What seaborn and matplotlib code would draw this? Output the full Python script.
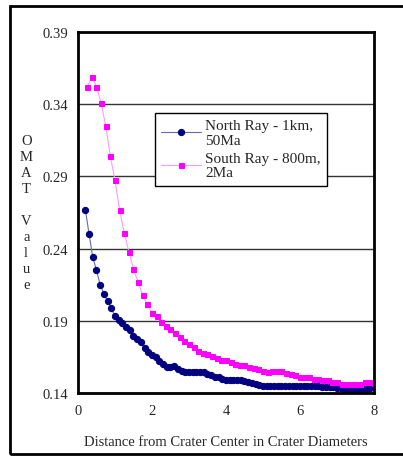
import seaborn as sns
import matplotlib.pyplot as plt
import matplotlib.patches as patches
import pandas as pd

# ----------------------------------
# data
# ----------------------------------
north_x = [0.2, 0.3, 0.4, 0.5, 0.6, 0.7, 0.8, 0.9, 1.0,
           1.1, 1.2, 1.3, 1.4, 1.5, 1.6, 1.7, 1.8, 1.9, 2.0,
           2.1, 2.2, 2.3, 2.4, 2.5, 2.6, 2.7, 2.8, 2.9, 3.0,
           3.1, 3.2, 3.3, 3.4, 3.5, 3.6, 3.7, 3.8, 3.9, 4.0,
           4.1, 4.2, 4.3, 4.4, 4.5, 4.6, 4.7, 4.8, 4.9, 5.0,
           5.1, 5.2, 5.3, 5.4, 5.5, 5.6, 5.7, 5.8, 5.9, 6.0,
           6.1, 6.2, 6.3, 6.4, 6.5, 6.6, 6.7, 6.8, 6.9, 7.0,
           7.1, 7.2, 7.3, 7.4, 7.5, 7.6, 7.7, 7.8, 7.9, 8.0]
north_omat = [0.267, 0.250, 0.234, 0.225, 0.215, 0.2086, 0.2035, 0.1987, 0.193,
              0.1908, 0.1885, 0.186, 0.1836, 0.1797, 0.1774, 0.1751, 0.1709, 0.1686, 0.1663,
              0.1647, 0.1619, 0.160, 0.1582, 0.1582, 0.1585, 0.1568, 0.1554, 0.1545, 0.1545,
              0.1545, 0.1545, 0.1546, 0.1545, 0.1532, 0.1522, 0.151, 0.151, 0.1496, 0.1487,
              0.1488, 0.1487, 0.1488, 0.1487, 0.1486, 0.1473, 0.1467, 0.1464, 0.1452, 0.145,
              0.145, 0.1451, 0.145, 0.145, 0.145, 0.1451, 0.145, 0.145, 0.145, 0.145,
              0.145, 0.145, 0.1451, 0.145, 0.1448, 0.1441, 0.1441, 0.1441, 0.1441, 0.1436,
              0.1436, 0.1428, 0.1428, 0.1428, 0.1428, 0.1428, 0.1428, 0.1428, 0.1432, 0.1443]

south_x = [0.25, 0.375, 0.5, 0.625, 0.75, 0.875, 1.0, 1.125,
           1.25, 1.375, 1.5, 1.625, 1.75, 1.875, 2.0, 2.125,
           2.25, 2.375, 2.5, 2.625, 2.75, 2.875, 3.0, 3.125,
           3.25, 3.375, 3.5, 3.625, 3.75, 3.875, 4.0, 4.125,
           4.25, 4.375, 4.5, 4.625, 4.75, 4.875, 5.0, 5.125,
           5.25, 5.375, 5.5, 5.625, 5.75, 5.875, 6.0, 6.125,
           6.25, 6.375, 6.5, 6.625, 6.75, 6.875, 7.0, 7.125,
           7.25, 7.375, 7.5, 7.625, 7.75, 7.875, 8.0]
south_omat = [0.352, 0.359, 0.352, 0.341, 0.325, 0.304, 0.2875, 0.267,
              0.251, 0.238, 0.2257, 0.217, 0.2076, 0.2014, 0.1954, 0.193,
              0.189, 0.1866, 0.1845, 0.1813, 0.1785, 0.176, 0.1741, 0.1716,
              0.169, 0.1677, 0.1668, 0.1656, 0.164, 0.163, 0.163, 0.1612,
              0.160, 0.1592, 0.1592, 0.158, 0.157, 0.1567, 0.155, 0.1545,
              0.1554, 0.1554, 0.1554, 0.1536, 0.153, 0.1522, 0.151, 0.151,
              0.151, 0.150, 0.150, 0.1488, 0.1487, 0.1476, 0.1474, 0.1464,
              0.1464, 0.1464, 0.1464, 0.1464, 0.1476, 0.1476, 0.1470]

y_ticks = [0.14, 0.19, 0.24, 0.29, 0.34, 0.39]
x_ticks = [0, 2, 4, 6, 8]

north_df = pd.DataFrame({'Distance': north_x, 'OMAT': north_omat})
south_df = pd.DataFrame({'Distance': south_x, 'OMAT': south_omat})

sns.set_style("white")
plt.rcParams['font.family'] = ['Liberation Serif', 'DejaVu Serif']

fig = plt.figure(figsize=(4.03, 4.6), dpi=100)
ax = fig.add_axes([0.1935, 0.1435, 0.7345, 0.7845])

sns.lineplot(x='Distance', y='OMAT', data=north_df, ax=ax,
             color='#6a6aa8', linewidth=0.8, marker='o', markersize=4.5,
             markerfacecolor='#000080', markeredgecolor='#000080',
             label='North Ray - 1km,\n50Ma')
sns.lineplot(x='Distance', y='OMAT', data=south_df, ax=ax,
             color='#ff99ff', linewidth=0.8, marker='s', markersize=3.6,
             markerfacecolor='#ff00ff', markeredgecolor='#ff00ff',
             label='South Ray - 800m,\n2Ma')

ax.set_xlim(0, 8)
ax.set_ylim(0.14, 0.39)
ax.set_xticks(x_ticks)
ax.set_yticks(y_ticks)
ax.set_yticklabels([f"{t:.2f}" for t in y_ticks])
ax.tick_params(axis='y', length=4, width=1, direction='out', labelsize=10.5, pad=3)
ax.tick_params(axis='x', length=3, width=1, direction='in', labelsize=10.5, pad=8)
ax.yaxis.grid(True, color='#333333', linewidth=1)
ax.set_axisbelow(True)
for side in ['left', 'right', 'top', 'bottom']:
    ax.spines[side].set_visible(True)
    ax.spines[side].set_color('black')
    ax.spines[side].set_linewidth(2)

ax.set_xlabel("Distance from Crater Center in Crater Diameters", fontsize=10.5, labelpad=13)
ax.set_ylabel("")
fig.text(0.065, 0.535, "O\nM\nA\nT\n\nV\na\nl\nu\ne", fontsize=10.5,
         ha='center', va='center', linespacing=1.3)

leg = ax.legend(loc='upper left', bbox_to_anchor=(0.26, 0.776), borderaxespad=0,
                fontsize=11, frameon=True, fancybox=False, handlelength=2.6,
                labelspacing=0.35, borderpad=0.4, handletextpad=0.3)
for t in leg.get_texts():
    t.set_linespacing(1.15)
leg.get_frame().set_edgecolor('black')
leg.get_frame().set_linewidth(1)
leg.get_frame().set_alpha(1)

# outer frame round the whole chart
fig.patches.append(patches.Rectangle((10 / 403, 5 / 460), 1.1, 448 / 460,
                                     transform=fig.transFigure, fill=False,
                                     edgecolor='black', linewidth=2, clip_on=False))

plt.savefig("out.png", dpi=100)
